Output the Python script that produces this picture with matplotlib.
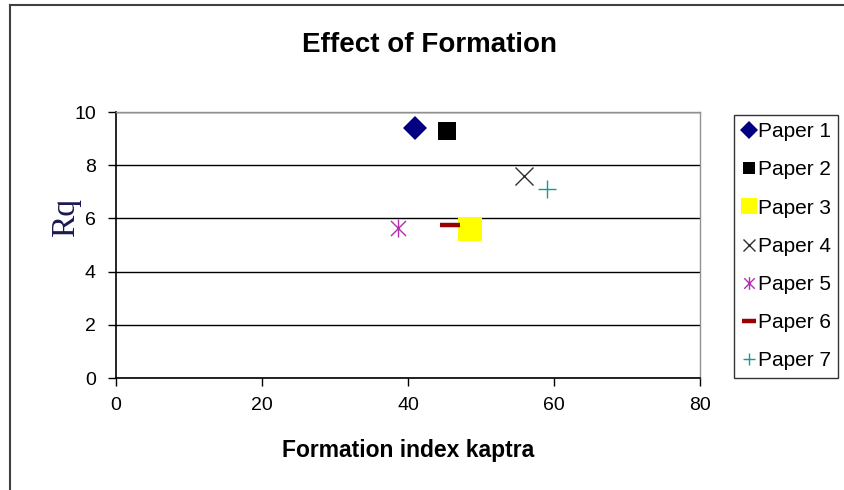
import matplotlib
matplotlib.use("Agg")
import matplotlib.pyplot as plt
from matplotlib.path import Path
from matplotlib.lines import Line2D

# Data: formation index (kaptra) vs roughness Rq for each paper
papers = ["Paper 1", "Paper 2", "Paper 3", "Paper 4", "Paper 5", "Paper 6", "Paper 7"]
formation_index = [41.0, 45.4, 48.5, 55.9, 38.6, 45.7, 59.0]
rq_values = [9.4, 9.3, 5.6, 7.6, 5.65, 5.75, 7.1]

x_ticks = [0, 20, 40, 60, 80]
y_ticks = [0, 2, 4, 6, 8, 10]

# six-armed asterisk marker
star_path = Path(
    [(-1, -1), (1, 1), (-1, 1), (1, -1), (0, -1.2), (0, 1.2)],
    [Path.MOVETO, Path.LINETO, Path.MOVETO, Path.LINETO, Path.MOVETO, Path.LINETO],
)

styles = [
    dict(marker="D", color="#000080", ms=12.5, mew=0),
    dict(marker="s", color="#000000", ms=13, mew=0),
    dict(marker="s", color="#FFFF00", ms=17, mew=0),
    dict(marker="x", color="#303030", ms=13, mew=1.0),
    dict(marker=star_path, color="#B030B0", ms=13, mew=1.0),
    dict(marker="_", color="#990000", ms=15, mew=3.2),
    dict(marker="+", color="#189898", ms=13, mew=1.0),
]

W, H = 844, 490
plt.rcParams["font.family"] = ["Liberation Sans", "DejaVu Sans"]
fig = plt.figure(figsize=(W / 100, H / 100), dpi=100)

ax = fig.add_axes([116 / W, 1 - 378 / H, (700 - 116) / W, (378 - 112) / H])

for name, x, y, st in zip(papers, formation_index, rq_values, styles):
    ax.plot([x], [y], linestyle="none", label=name, marker=st["marker"],
            color=st["color"], markersize=st["ms"], markeredgewidth=st["mew"],
            zorder=3)

ax.set_xlim(0, 80)
ax.set_ylim(0, 10)
ax.set_xticks(x_ticks)
ax.set_yticks(y_ticks)
ax.grid(axis="y", color="#000000", linewidth=1.0)
ax.set_axisbelow(True)

for side in ("top", "right"):
    ax.spines[side].set_color("#909090")
    ax.spines[side].set_linewidth(1.0)
for side in ("left", "bottom"):
    ax.spines[side].set_color("#000000")
    ax.spines[side].set_linewidth(1.2)

ax.tick_params(axis="both", direction="out", length=5.5, width=1.0,
               labelsize=14, colors="#000000")
ax.tick_params(axis="x", pad=8)
ax.tick_params(axis="y", pad=9)

fig.text(430 / W, 1 - 52 / H, "Effect of Formation", fontsize=20,
         fontweight="bold", ha="center", va="baseline")
ax.set_xlabel("Formation index kaptra", fontsize=16.5, fontweight="bold", labelpad=18)
ax.set_ylabel("Rq", fontsize=24, family=["Liberation Serif", "DejaVu Serif"],
              color="#1a1a50")
ax.yaxis.set_label_coords(-0.06, 0.605)

leg = fig.legend(loc="upper left", bbox_to_anchor=(734 / W, 1 - 115 / H),
                 frameon=True, fancybox=False, fontsize=15,
                 handlelength=0.7, handletextpad=0.1, borderpad=0.35,
                 labelspacing=0.92, markerscale=0.7, borderaxespad=0)
leg.get_frame().set_edgecolor("#000000")
leg.get_frame().set_linewidth(1.0)

# outer chart frame (left and top edges visible)
fig.add_artist(Line2D([10 / W, 10 / W], [0, 1 - 5 / H], transform=fig.transFigure,
                      color="#404040", linewidth=1.5))
fig.add_artist(Line2D([10 / W, 1], [1 - 5 / H, 1 - 5 / H], transform=fig.transFigure,
                      color="#404040", linewidth=1.5))

fig.savefig("out.png", dpi=100)
